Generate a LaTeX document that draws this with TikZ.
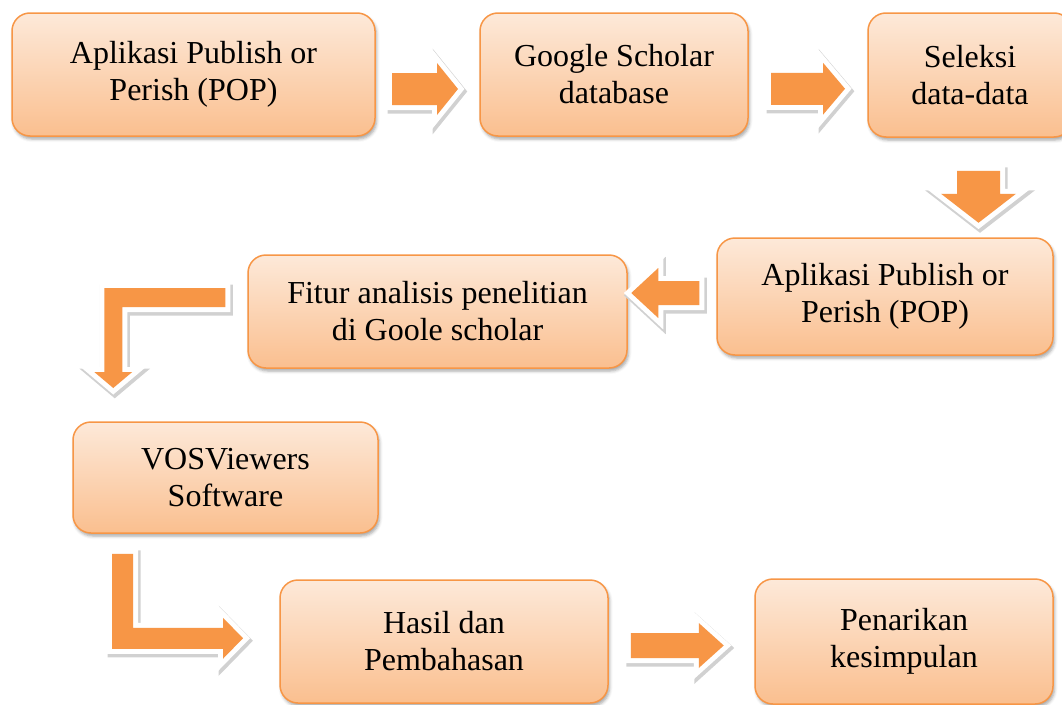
\documentclass[tikz,border=0pt]{standalone}
\usepackage{fontspec}
\setmainfont{Liberation Serif}
\usetikzlibrary{calc,shadows.blur}
\definecolor{accent}{RGB}{247,150,70}
\definecolor{boxtop}{RGB}{253,233,217}
\definecolor{boxbot}{RGB}{250,191,143}
\tikzset{
  box/.style={draw=accent, line width=1.5pt, rounded corners=18pt,
    top color=boxtop, bottom color=boxbot, align=center, inner sep=0pt,
    font=\fontsize{32}{37}\selectfont, text=black,
    blur shadow={shadow xshift=1.5pt, shadow yshift=-3pt, shadow blur radius=3pt, shadow opacity=35}},
  arr/.style={fill=accent,
    preaction={draw=black!18, fill=black!18, line width=12pt, line join=miter, miter limit=4,
      transform canvas={shift={(1.5pt,-2.5pt)}}},
    preaction={draw=white, fill=white, line width=10pt, line join=miter, miter limit=4}}
}
\newcommand{\blockarr}[6]{%
  \begin{scope}[shift={#1},rotate=#2]
    \path[arr] ({-(#3)/2},-#4) -- ({(#3)/2-(#6)},-#4) -- ({(#3)/2-(#6)},-#5) -- ({(#3)/2},0)
      -- ({(#3)/2-(#6)},#5) -- ({(#3)/2-(#6)},#4) -- ({-(#3)/2},#4) -- cycle;
  \end{scope}}
\begin{document}
\begin{tikzpicture}[x=1pt,y=-1pt]
\useasboundingbox (0,0) rectangle (1062,704);
% boxes
\node[box, minimum width=363pt, minimum height=123pt] (A) at (193.5,74.5) {Aplikasi Publish or\\Perish (POP)};
\node[box, minimum width=268pt, minimum height=123pt] (B) at (614,74.5) {Google Scholar\\database};
\node[box, minimum width=204pt, minimum height=124pt] (C) at (970,75) {Seleksi\\data-data};
\node[box, minimum width=336pt, minimum height=117pt] (D) at (885,296.5) {Aplikasi Publish or\\Perish (POP)};
\node[box, minimum width=379pt, minimum height=113pt] (E) at (437.5,311.5) {Fitur analisis penelitian\\di Goole scholar};
\node[box, minimum width=305pt, minimum height=111pt] (F) at (225.5,477.5) {VOSViewers\\Software};
\node[box, minimum width=328pt, minimum height=123pt] (G) at (444,641.5) {Hasil dan\\Pembahasan};
\node[box, minimum width=298pt, minimum height=125pt] (H) at (904,641.5) {Penarikan\\kesimpulan};
% straight block arrows
\blockarr{($(A.east)!0.5!(B.west)+(-2.5,14.5)$)}{0}{66}{16}{26}{21}
\blockarr{($(B.east)!0.5!(C.west)+(0,14)$)}{0}{74}{16}{26}{22}
\blockarr{($(C.south)+(8.5,59)$)}{-90}{52}{21.5}{37.5}{29}
\blockarr{($(D.west)+(-51,-3.5)$)}{180}{68}{12}{25}{27}
\blockarr{($(G.east)+(68.5,4)$)}{0}{93}{12.5}{22.5}{25}
% bent arrow E -> F
\begin{scope}[shift={(E.west)}]
  \path[arr] (-22,-23.5) -- (-22,-4.5) -- (-125,-4.5) -- (-125,60.5) -- (-115,60.5)
    -- (-134,76.5) -- (-153,60.5) -- (-143,60.5) -- (-143,-23.5) -- cycle;
\end{scope}
% bent arrow F -> G
\begin{scope}[shift={(F.south)}]
  \path[arr] (-113.5,20) -- (-92.5,20) -- (-92.5,94) -- (-2.5,94) -- (-2.5,84)
    -- (17.5,104.5) -- (-2.5,125) -- (-2.5,115) -- (-113.5,115) -- cycle;
\end{scope}
\end{tikzpicture}
\end{document}
